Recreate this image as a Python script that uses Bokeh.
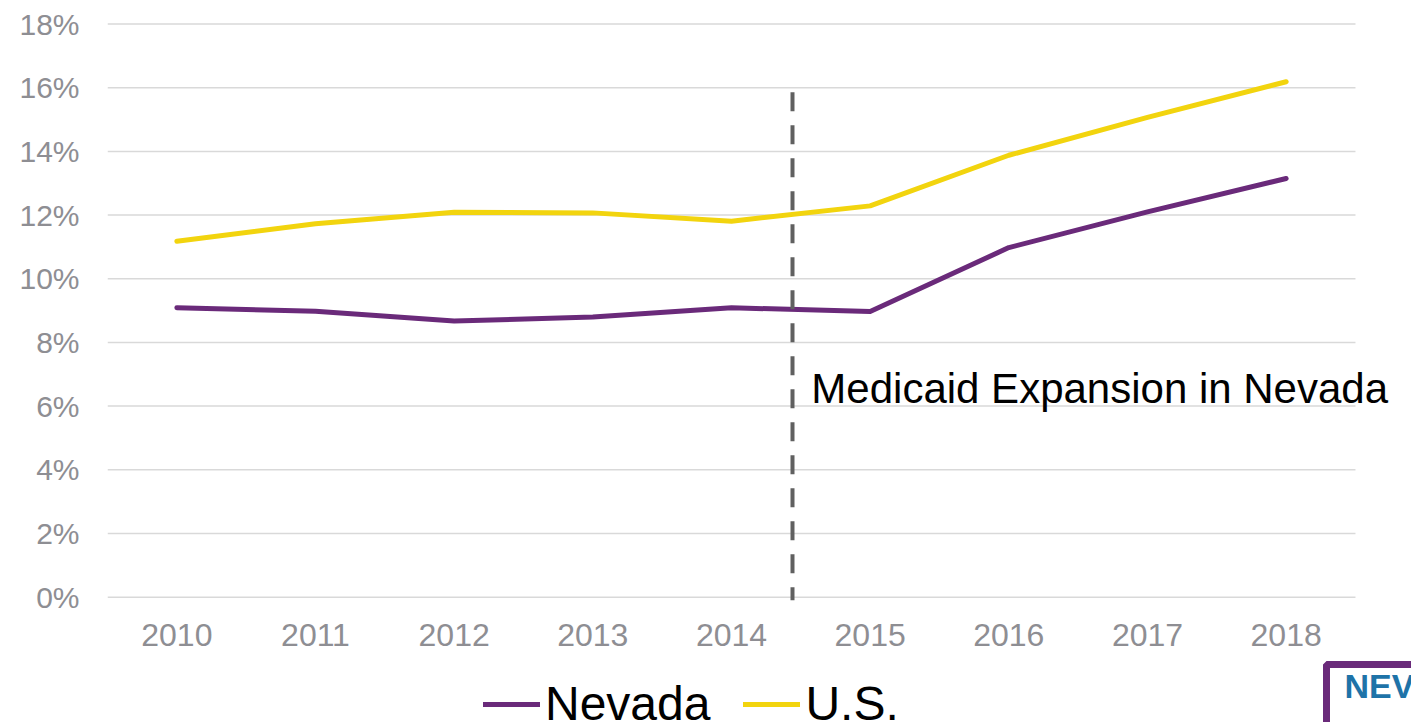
from bokeh.plotting import figure
from bokeh.layouts import column
from bokeh.models import (Range1d, FixedTicker, PrintfTickFormatter,
                          Legend, LegendItem, Label)
from bokeh.embed import file_html
from bokeh.resources import INLINE

# ---- data ----
years = ["2010", "2011", "2012", "2013", "2014", "2015", "2016", "2017", "2018"]
nevada = [9.09, 8.98, 8.67, 8.80, 9.09, 8.97, 10.98, 12.10, 13.15]
us = [11.18, 11.73, 12.09, 12.07, 11.81, 12.29, 13.88, 15.07, 16.19]
series_names = ["Nevada", "U.S."]
y_ticks = [0, 2, 4, 6, 8, 10, 12, 14, 16, 18]
annotation_text = "Medicaid Expansion in Nevada"
expansion_x = 4.44           # between 2014 (index 4) and 2015 (index 5)
expansion_y = [15.86, -0.1]  # extent of the dashed marker
annotation_pos = (4.576, 6.56)
logo_text = "NEVADA"

FONT = "Liberation Sans"
PURPLE = "#6a2a7a"
YELLOW = "#f2d40e"
TICK_GRAY = "#8e8e93"
GRID = "#d9d9d9"
W = 1411

x_idx = list(range(len(years)))
x_range = Range1d(-0.5, len(years) - 0.5 + 0.404)

# ---------------- main chart ----------------
p = figure(width=W, height=660, x_range=x_range, y_range=Range1d(-0.2, 18.05),
           output_backend="svg", toolbar_location=None,
           min_border_left=107, min_border_right=0,
           min_border_top=22, min_border_bottom=57)

p.outline_line_color = None
p.background_fill_color = "white"
p.border_fill_color = "white"
p.xgrid.grid_line_color = None
p.ygrid.grid_line_color = None

# horizontal gridlines, spanning only the category band
p.segment(x0=[-0.5] * len(y_ticks), y0=y_ticks,
          x1=[len(years) - 0.5] * len(y_ticks), y1=y_ticks,
          line_color=GRID, line_width=1.5)

p.xaxis.ticker = FixedTicker(ticks=x_idx)
p.xaxis.major_label_overrides = {i: y for i, y in zip(x_idx, years)}
p.yaxis.ticker = FixedTicker(ticks=y_ticks)
p.yaxis.formatter = PrintfTickFormatter(format="%d%%")
for ax in (p.xaxis[0], p.yaxis[0]):
    ax.axis_line_color = None
    ax.major_tick_line_color = None
    ax.minor_tick_line_color = None
    ax.major_tick_in = 0
    ax.major_tick_out = 0
    ax.minor_tick_in = 0
    ax.minor_tick_out = 0
    ax.major_label_text_font = FONT
    ax.major_label_text_color = TICK_GRAY
p.yaxis.major_label_text_font_size = "30px"
p.xaxis.major_label_text_font_size = "32px"
p.yaxis.major_label_standoff = 28
p.xaxis.major_label_standoff = 20

line_kw = dict(line_width=5, line_cap="round", line_join="round")
p.line(x_idx, nevada, line_color=PURPLE, **line_kw)
p.line(x_idx, us, line_color=YELLOW, **line_kw)

p.segment(x0=[expansion_x], y0=[expansion_y[0]], x1=[expansion_x], y1=[expansion_y[1]],
          line_color="#606060", line_width=4, line_dash="19 14")

p.add_layout(Label(x=annotation_pos[0], y=annotation_pos[1], text=annotation_text,
                   text_font=FONT, text_font_size="42px", text_color="black",
                   text_baseline="alphabetic"))

# ---------------- legend strip ----------------
H2 = 62
p2 = figure(width=W, height=H2, x_range=x_range, y_range=Range1d(1000, 1001),
            output_backend="svg", toolbar_location=None,
            x_axis_type=None, y_axis_type=None,
            min_border_left=0, min_border_right=0,
            min_border_top=0, min_border_bottom=0)
p2.outline_line_color = None
p2.grid.visible = False
p2.background_fill_color = "white"
p2.border_fill_color = "white"

# same series (outside this strip's visible range) to feed the legend keys
r_nv = p2.line(x_idx, nevada, line_color=PURPLE, **line_kw)
r_us = p2.line(x_idx, us, line_color=YELLOW, **line_kw)

legend = Legend(items=[LegendItem(label=series_names[0], renderers=[r_nv]),
                       LegendItem(label=series_names[1], renderers=[r_us])],
                orientation="horizontal", location=(376, -9),
                label_text_font=FONT, label_text_font_size="48px",
                label_text_color="black", glyph_width=57, glyph_height=20,
                label_standoff=5, spacing=33, padding=0, margin=0,
                border_line_color=None, background_fill_alpha=0)
p2.add_layout(legend)

p2.add_layout(Label(x=1219, y=H2 - 4, x_units="screen", y_units="screen",
                    text=logo_text, text_font=FONT, text_font_style="bold",
                    text_font_size="34px", text_color="#1e73a8",
                    text_baseline="top",
                    border_line_color=PURPLE, border_line_width=7,
                    padding=dict(left=18, right=60, top=2, bottom=60)))

open("out.html", "w").write(file_html(column(p, p2), INLINE))
